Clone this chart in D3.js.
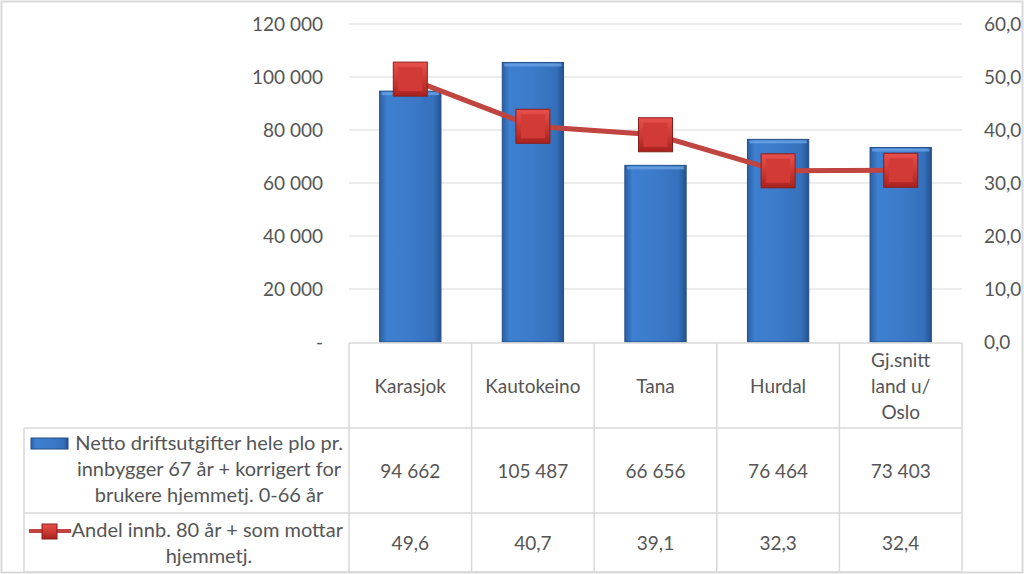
<!DOCTYPE html>
<html>
<head>
<meta charset="utf-8">
<script src="https://cdn.jsdelivr.net/npm/d3@7"></script>
<style>
  body { margin: 0; background: #fff; }
  svg { display: block; font-family: Lato, "Open Sans", sans-serif; }
  text { fill: #555; font-size: 19px; }
  text.leg { font-size: 20px; }
</style>
</head>
<body>
<svg id="chart" width="1024" height="574"></svg>
<script>
const categories = ["Karasjok", "Kautokeino", "Tana", "Hurdal", "Gj.snitt land u/ Oslo"];
const categoryLines = [["Karasjok"], ["Kautokeino"], ["Tana"], ["Hurdal"], ["Gj.snitt", "land u/", "Oslo"]];
const driftsutgifter = [94662, 105487, 66656, 76464, 73403];
const andelHjemmetj = [49.6, 40.7, 39.1, 32.3, 32.4];
const leftTicks = [0, 20000, 40000, 60000, 80000, 100000, 120000];
const rightTicks = [0, 10, 20, 30, 40, 50, 60];
const barLegend = ["Netto driftsutgifter hele plo pr.", "innbygger 67 år + korrigert for", "brukere hjemmetj. 0-66 år"];
const lineLegend = ["Andel innb. 80 år + som mottar", "hjemmetj."];

const svg = d3.select("#chart");

// outer frame
svg.append("rect")
    .attr("x", 1.5).attr("y", 1.5)
    .attr("width", 1021).attr("height", 571)
    .attr("fill", "none").attr("stroke", "#d9d9d9").attr("stroke-width", 2);

const x = d3.scaleBand().domain(categories).range([349, 962]);
const yL = d3.scaleLinear().domain([0, 120000]).range([342, 24]);
const yR = d3.scaleLinear().domain([0, 60]).range([342, 24]);

const defs = svg.append("defs");
const barGrad = defs.append("linearGradient").attr("id", "barGrad");
barGrad.append("stop").attr("offset", "0%").attr("stop-color", "#2b5fa3");
barGrad.append("stop").attr("offset", "12%").attr("stop-color", "#3d7fd0");
barGrad.append("stop").attr("offset", "50%").attr("stop-color", "#3c7bc9");
barGrad.append("stop").attr("offset", "88%").attr("stop-color", "#3570bb");
barGrad.append("stop").attr("offset", "100%").attr("stop-color", "#24528f");

const markGrad = defs.append("linearGradient").attr("id", "markGrad")
    .attr("x1", 0).attr("y1", 0).attr("x2", 0).attr("y2", 1);
markGrad.append("stop").attr("offset", "0%").attr("stop-color", "#e8504b");
markGrad.append("stop").attr("offset", "50%").attr("stop-color", "#cc3a35");
markGrad.append("stop").attr("offset", "100%").attr("stop-color", "#a8221f");

// gridlines
svg.append("g").selectAll("line")
    .data(leftTicks.slice(1))
    .join("line")
    .attr("x1", 349).attr("x2", 962)
    .attr("y1", d => yL(d)).attr("y2", d => yL(d))
    .attr("stroke", "#d9d9d9").attr("stroke-width", 1);

// left axis labels
svg.append("g").selectAll("text")
    .data(leftTicks)
    .join("text")
    .attr("x", 323).attr("y", d => yL(d) + 7)
    .attr("text-anchor", "end")
    .text(d => d === 0 ? "-" : d3.format(",")(d).replace(/,/g, " "));

// right axis labels
svg.append("g").selectAll("text")
    .data(rightTicks)
    .join("text")
    .attr("x", 984).attr("y", d => yR(d) + 7)
    .text(d => d3.format(".1f")(d).replace(".", ","));

// bars
const bw = x.bandwidth() * 0.5;
const bars = svg.append("g").selectAll("g")
    .data(driftsutgifter)
    .join("g");
bars.append("rect")
    .attr("x", (d, i) => x(categories[i]) + (x.bandwidth() - bw) / 2)
    .attr("y", d => yL(d))
    .attr("width", bw)
    .attr("height", d => yL(0) - yL(d))
    .attr("fill", "url(#barGrad)")
    .attr("stroke", "#254f86").attr("stroke-width", 1);
bars.append("rect")
    .attr("x", (d, i) => x(categories[i]) + (x.bandwidth() - bw) / 2 + 2)
    .attr("y", d => yL(d) + 1)
    .attr("width", bw - 4)
    .attr("height", 3)
    .attr("fill", "#6aa3e6").attr("opacity", 0.8);

// line
const cx = i => x(categories[i]) + x.bandwidth() / 2;
const line = d3.line().x((d, i) => cx(i)).y(d => yR(d));
svg.append("path")
    .datum(andelHjemmetj)
    .attr("d", line)
    .attr("fill", "none")
    .attr("stroke", "#c0443f")
    .attr("stroke-width", 5);

const ms = 34;
const marks = svg.append("g").selectAll("g")
    .data(andelHjemmetj)
    .join("g")
    .attr("transform", (d, i) => `translate(${cx(i)},${yR(d)})`);
marks.append("rect")
    .attr("x", -ms / 2).attr("y", -ms / 2)
    .attr("width", ms).attr("height", ms)
    .attr("fill", "url(#markGrad)")
    .attr("stroke", "#8c1d1a").attr("stroke-width", 1);
marks.append("rect")
    .attr("x", -ms / 2 + 5).attr("y", -ms / 2 + 5)
    .attr("width", ms - 10).attr("height", ms - 10)
    .attr("fill", "#d13a35");

// data table
const tTop = 343, r1 = 428, r2 = 513, tBot = 572, tLeft = 24;
const grid = svg.append("g").attr("stroke", "#d9d9d9").attr("stroke-width", 1.5);
const colEdges = categories.map(c => x(c)).concat([x.range()[1]]);
grid.selectAll(".v")
    .data(colEdges)
    .join("line")
    .attr("x1", d => d).attr("x2", d => d)
    .attr("y1", tTop).attr("y2", tBot);
grid.append("line").attr("x1", colEdges[0]).attr("x2", 962).attr("y1", tTop).attr("y2", tTop);
grid.append("line").attr("x1", tLeft).attr("x2", 962).attr("y1", r1).attr("y2", r1);
grid.append("line").attr("x1", tLeft).attr("x2", 962).attr("y1", r2).attr("y2", r2);
grid.append("line").attr("x1", tLeft).attr("x2", 962).attr("y1", tBot).attr("y2", tBot);
grid.append("line").attr("x1", tLeft).attr("x2", tLeft).attr("y1", r1).attr("y2", tBot);

// category header
categoryLines.forEach((lines, i) => {
    const lh = 26;
    const y0 = (tTop + r1) / 2 - (lines.length - 1) * lh / 2 + 7;
    svg.append("g").selectAll("text")
        .data(lines)
        .join("text")
        .attr("x", cx(i))
        .attr("y", (d, j) => y0 + j * lh)
        .attr("text-anchor", "middle")
        .text(d => d);
});

// value rows
svg.append("g").selectAll("text")
    .data(driftsutgifter)
    .join("text")
    .attr("x", (d, i) => cx(i)).attr("y", (r1 + r2) / 2 + 7)
    .attr("text-anchor", "middle")
    .text(d => d3.format(",")(d).replace(/,/g, " "));
svg.append("g").selectAll("text")
    .data(andelHjemmetj)
    .join("text")
    .attr("x", (d, i) => cx(i)).attr("y", (r2 + tBot) / 2 + 7)
    .attr("text-anchor", "middle")
    .text(d => d3.format(".1f")(d).replace(".", ","));

// legend cells
const legMid = 209;
svg.append("g").selectAll("text")
    .data(barLegend)
    .join("text")
    .attr("class", "leg")
    .attr("x", (d, i) => i === 0 ? 343 : legMid)
    .attr("y", (d, i) => 450 + i * 26)
    .attr("text-anchor", (d, i) => i === 0 ? "end" : "middle")
    .text(d => d);
svg.append("rect")
    .attr("x", 31).attr("y", 438).attr("width", 37).attr("height", 11)
    .attr("fill", "url(#barGrad)").attr("stroke", "#254f86");

svg.append("g").selectAll("text")
    .data(lineLegend)
    .join("text")
    .attr("class", "leg")
    .attr("x", (d, i) => i === 0 ? 343 : legMid)
    .attr("y", (d, i) => 537 + i * 26)
    .attr("text-anchor", (d, i) => i === 0 ? "end" : "middle")
    .text(d => d);
svg.append("line")
    .attr("x1", 29).attr("x2", 71).attr("y1", 531).attr("y2", 531)
    .attr("stroke", "#c0443f").attr("stroke-width", 4);
svg.append("rect")
    .attr("x", 42).attr("y", 524).attr("width", 15).attr("height", 15)
    .attr("fill", "url(#markGrad)").attr("stroke", "#8c1d1a");
</script>
</body>
</html>
